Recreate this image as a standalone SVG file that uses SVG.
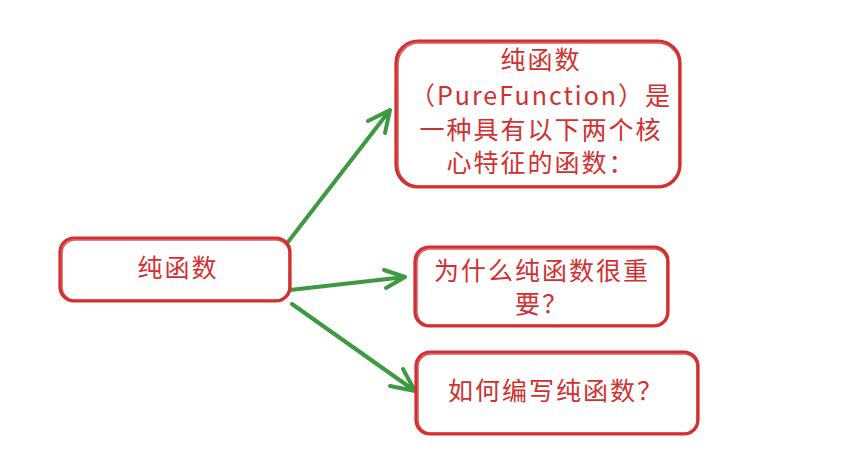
<svg xmlns="http://www.w3.org/2000/svg" width="846" height="475" viewBox="0 0 846 475">
<style>
.box{fill:#ffffff;stroke:#d32f2f;stroke-width:3.2;stroke-linejoin:round}
.box2{fill:none;stroke:#d32f2f;stroke-width:1.5;opacity:0.8}
.t{font-family:"Noto Sans CJK SC","Noto Sans",sans-serif;font-size:25px;fill:#d32f2f;text-anchor:middle;letter-spacing:2px}
.c{fill:none;stroke:#3d9a40;stroke-width:4;stroke-linecap:round;stroke-linejoin:round}
</style>
<rect width="846" height="475" fill="#ffffff"/>
<g id="connectors">
<path class="c" d="M288 242 L390 110 M368 121 L390 110 L385 133"/>
<path class="c" d="M290 290 L405 277 M384 270 L405 277 L386 288"/>
<path class="c" d="M292 304 L415 391 M403 369 L415 391 L390 386"/>
</g>
<g id="root">
<rect class="box" x="60" y="238" width="230" height="63" rx="14"/>
<rect class="box2" x="62" y="240" width="227" height="60" rx="13"/>
<text class="t" x="178" y="277">纯函数</text>
</g>
<g id="n1">
<rect class="box" x="396" y="41" width="284" height="146" rx="22"/>
<rect class="box2" x="398" y="43" width="281" height="143" rx="21"/>
<text class="t" x="541" y="69">纯函数</text>
<text class="t" x="541" y="105">（PureFunction）是</text>
<text class="t" x="541" y="139">一种具有以下两个核</text>
<text class="t" x="541" y="172">心特征的函数：</text>
</g>
<g id="n2">
<rect class="box" x="415" y="247" width="253" height="79" rx="14"/>
<rect class="box2" x="417" y="249" width="250" height="76" rx="13"/>
<text class="t" x="542" y="280">为什么纯函数很重</text>
<text class="t" x="542" y="313">要？</text>
</g>
<g id="n3">
<rect class="box" x="416" y="352" width="282" height="82" rx="14"/>
<rect class="box2" x="418" y="354" width="279" height="79" rx="13"/>
<text class="t" x="556" y="400">如何编写纯函数？</text>
</g>
</svg>
